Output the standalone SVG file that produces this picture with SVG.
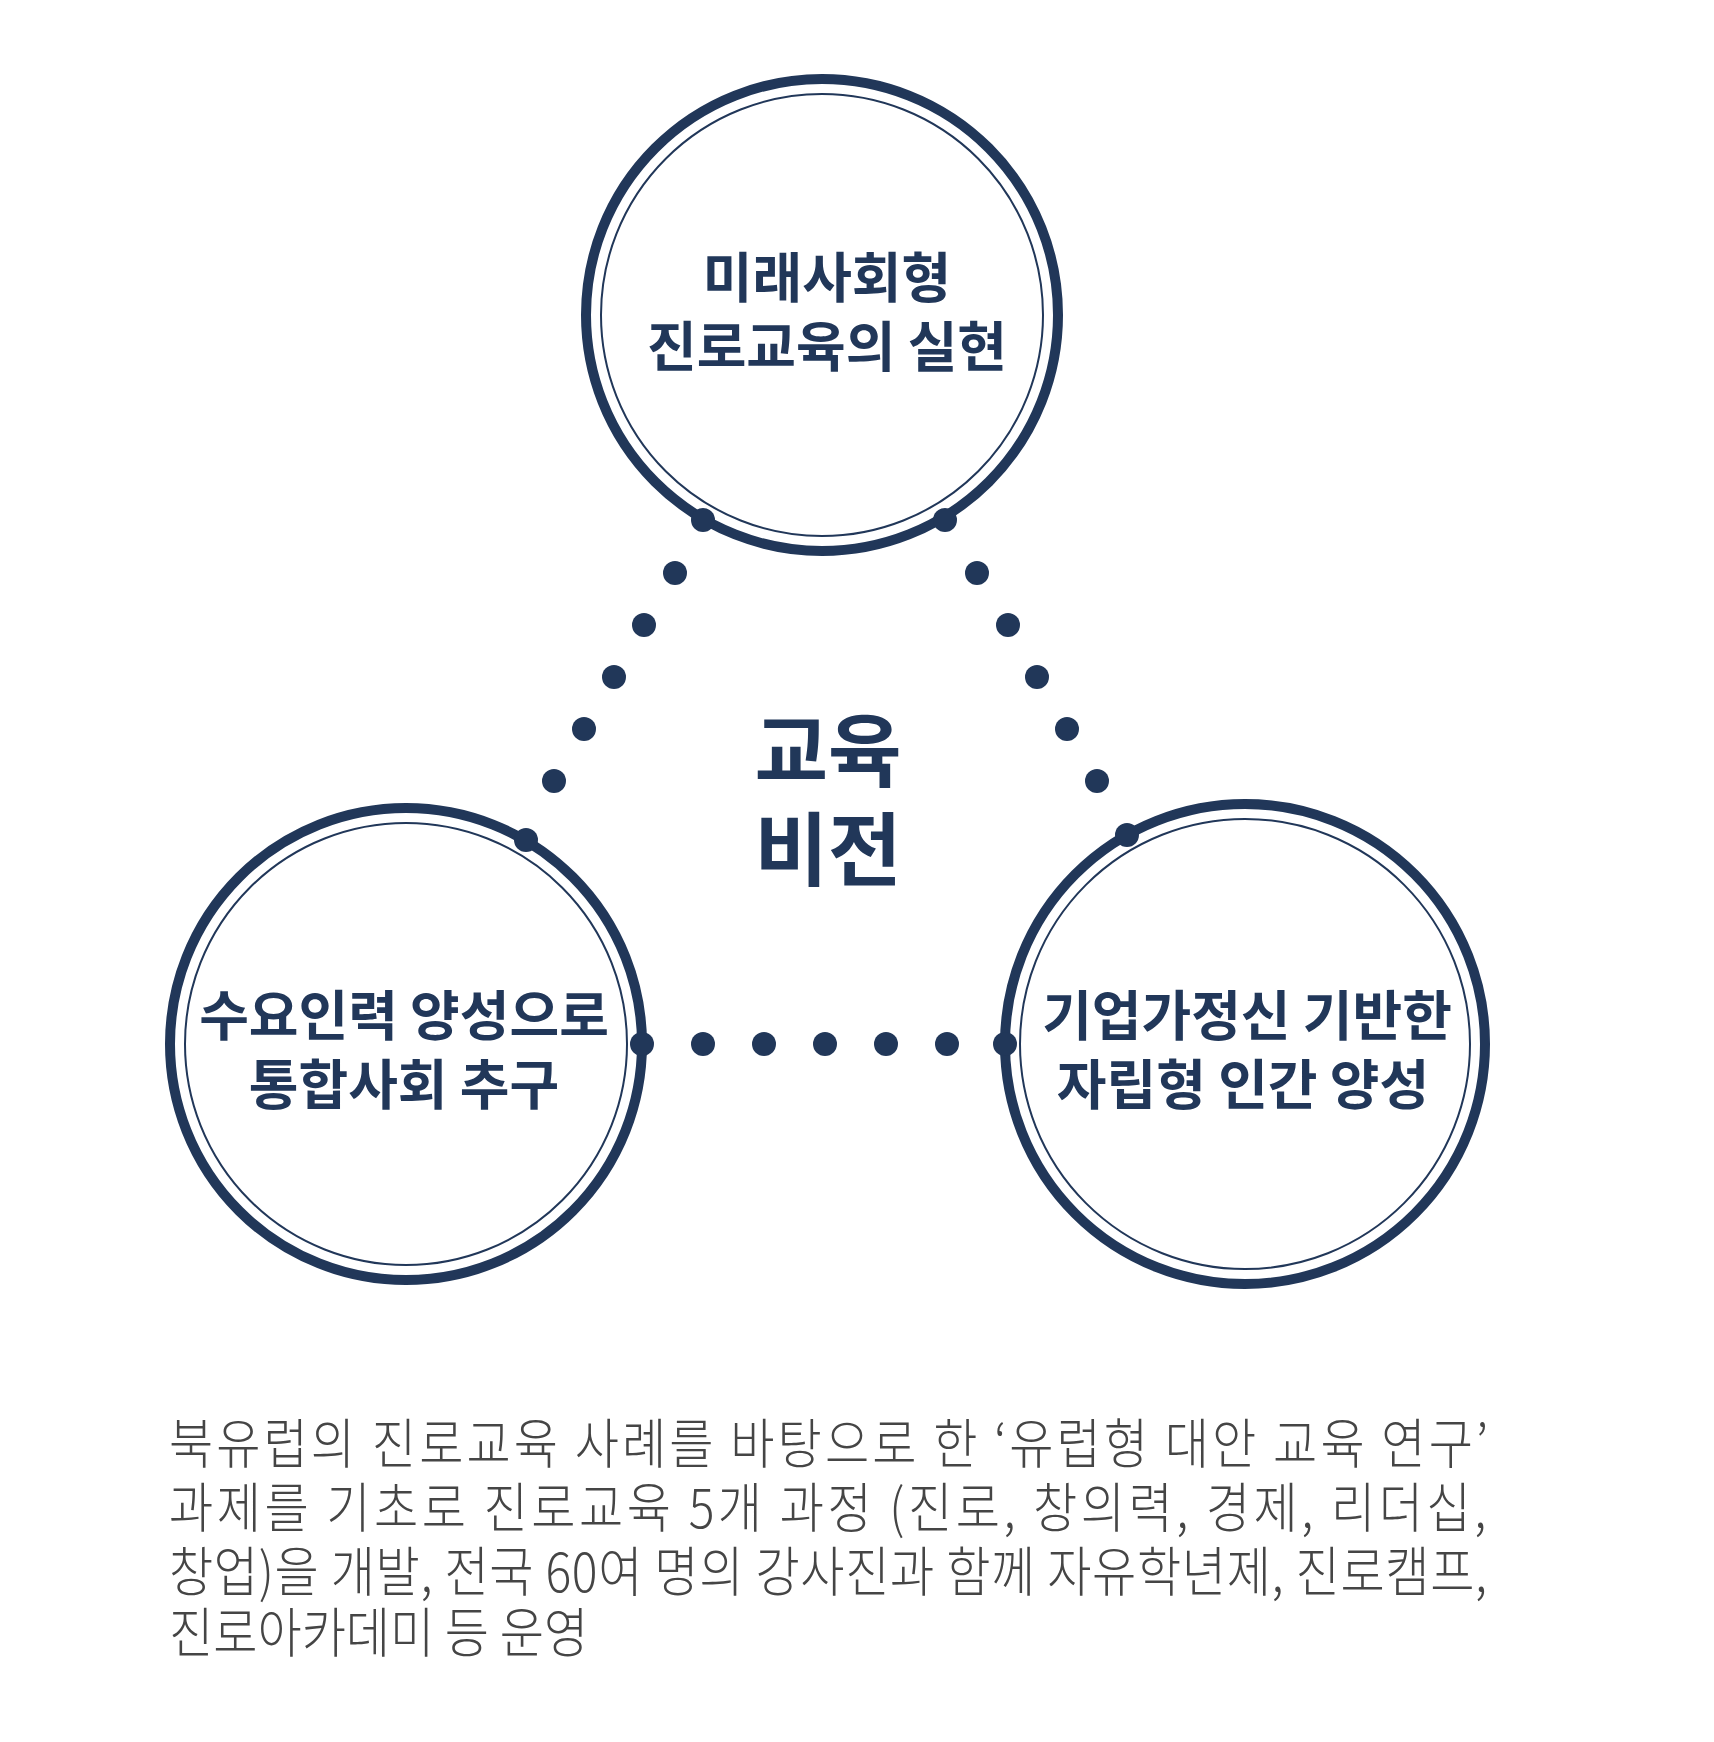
<svg xmlns="http://www.w3.org/2000/svg" width="1714" height="1742" viewBox="0 0 1714 1742">
<style>
.ring{fill:#fff;stroke:#213759;stroke-width:10}
.inner{fill:none;stroke:#213759;stroke-width:2}
.dot{fill:#213759}
.lbl{font-family:"Noto Sans CJK KR","Noto Sans",sans-serif;font-weight:700;font-size:54px;fill:#213759;text-anchor:middle}
.ctr{font-family:"Noto Sans CJK KR","Noto Sans",sans-serif;font-weight:700;font-size:80px;fill:#213759;text-anchor:middle}
.body{font-family:"Noto Sans CJK KR","Noto Sans",sans-serif;font-weight:300;font-size:54px;fill:#454545}
</style>
<rect width="1714" height="1742" fill="#fff"/>
<g id="connectors">
<g class="dot">
<circle cx="675" cy="573" r="12"/><circle cx="644" cy="625" r="12"/><circle cx="614" cy="677" r="12"/><circle cx="584" cy="729" r="12"/><circle cx="554" cy="781" r="12"/>
<circle cx="977" cy="573" r="12"/><circle cx="1008" cy="625" r="12"/><circle cx="1037" cy="677" r="12"/><circle cx="1067" cy="729" r="12"/><circle cx="1097" cy="781" r="12"/>
<circle cx="703" cy="1044" r="12"/><circle cx="764" cy="1044" r="12"/><circle cx="825" cy="1044" r="12"/><circle cx="886" cy="1044" r="12"/><circle cx="947" cy="1044" r="12"/>
</g>
</g>
<g id="node-top">
<circle class="ring" cx="822" cy="315" r="236"/>
<circle class="inner" cx="822" cy="315" r="221"/>
<circle class="dot" cx="703" cy="520" r="12"/><circle class="dot" cx="945" cy="520" r="12"/>
<text class="lbl" x="827" y="298">미래사회형</text>
<text class="lbl" x="827" y="367">진로교육의 실현</text>
</g>
<g id="node-left">
<circle class="ring" cx="406" cy="1044" r="236"/>
<circle class="inner" cx="406" cy="1044" r="221"/>
<circle class="dot" cx="526" cy="840" r="12"/><circle class="dot" cx="642" cy="1044" r="12"/>
<text class="lbl" x="404" y="1036">수요인력 양성으로</text>
<text class="lbl" x="404" y="1105">통합사회 추구</text>
</g>
<g id="node-right">
<circle class="ring" cx="1245" cy="1044" r="240"/>
<circle class="inner" cx="1245" cy="1044" r="225"/>
<circle class="dot" cx="1127" cy="835" r="12"/><circle class="dot" cx="1005" cy="1044" r="12"/>
<text class="lbl" x="1247" y="1036">기업가정신 기반한</text>
<text class="lbl" x="1243" y="1105">자립형 인간 양성</text>
</g>
<g id="center-label">
<text class="ctr" x="828" y="780">교육</text>
<text class="ctr" x="828" y="879">비전</text>
</g>
<g id="caption" transform="translate(169 0) scale(0.89 1)">
<text class="body" x="0" y="1464" textLength="1482" lengthAdjust="spacing">북유럽의 진로교육 사례를 바탕으로 한 ‘유럽형 대안 교육 연구’</text>
<text class="body" x="0" y="1528" textLength="1480" lengthAdjust="spacing">과제를 기초로 진로교육 5개 과정 (진로, 창의력, 경제, 리더십,</text>
<text class="body" x="0" y="1592" textLength="1481" lengthAdjust="spacing">창업)을 개발, 전국 60여 명의 강사진과 함께 자유학년제, 진로캠프,</text>
<text class="body" x="0" y="1653">진로아카데미 등 운영</text>
</g>
</svg>
